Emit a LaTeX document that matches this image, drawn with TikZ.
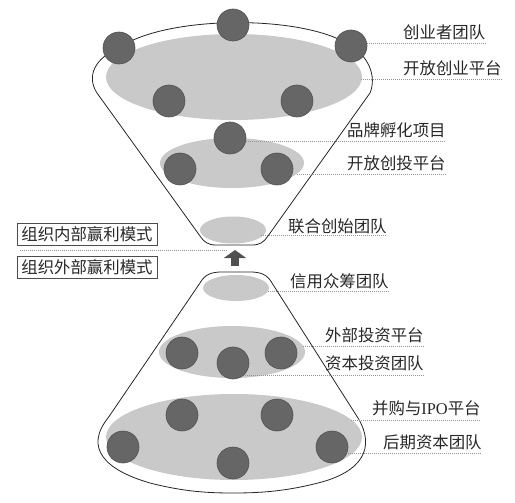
\documentclass[tikz,border=0pt]{standalone}
\usepackage{fontspec}
\setmainfont{Liberation Serif}
\newfontfamily\cjk{Noto Sans CJK SC}
\usetikzlibrary{shapes.geometric,arrows.meta}
\definecolor{platec}{RGB}{201,201,201}
\definecolor{ballc}{RGB}{102,102,102}
\definecolor{balledge}{RGB}{82,82,82}
\definecolor{leadc}{RGB}{150,150,150}
\definecolor{txtc}{RGB}{40,40,40}
\definecolor{arrowc}{RGB}{80,80,80}
\begin{document}
\begin{tikzpicture}[x=1pt,y=-1pt,
  plate/.style={ellipse,fill=platec,draw=none,inner sep=0pt},
  ball/.style={circle,fill=ballc,draw=balledge,line width=0.6pt,inner sep=0pt,minimum size=32pt},
  lab/.style={anchor=west,inner sep=0pt,text=txtc,font=\cjk\fontsize{16.4}{18}\selectfont},
  leader/.style={draw=leadc,line width=0.7pt,dash pattern=on 1pt off 1pt},
  outline/.style={draw=black!85,line width=0.8pt},
  modebox/.style={draw=black!70,line width=0.7pt,inner xsep=4pt,inner ysep=0pt,
    minimum width=140pt,minimum height=22pt,text=txtc,font=\cjk\fontsize{16.4}{18}\selectfont}]
\useasboundingbox (0,0) rectangle (515,503);
\fill[white] (0,0) rectangle (515,503);

% ---------- top funnel ----------
\draw[outline] (119,48) .. controls (165,15) and (305,14) .. (351,46)
  .. controls (368,56) and (377,76) .. (370,93) -- (268,236)
  .. controls (264,242) and (260,245) .. (252,245) -- (216,245)
  .. controls (208,245) and (204,242) .. (200,236) -- (97,93)
  .. controls (86,76) and (95,58) .. (119,48) -- cycle;

\node[plate,minimum width=256pt,minimum height=86pt] (p1) at (234,77) {};
\node[plate,minimum width=144pt,minimum height=50pt] (p2) at (232,163) {};
\node[plate,minimum width=66pt,minimum height=27pt] (p3) at (233,230) {};

% ---------- bottom cone ----------
\draw[outline] (200,283) .. controls (205,274) and (212,272) .. (222,272) -- (250,272)
  .. controls (260,272) and (267,274) .. (272,283) -- (358,418)
  .. controls (376,448) and (362,472) .. (318,483)
  .. controls (283,492) and (256,493) .. (233,493)
  .. controls (210,493) and (185,492) .. (150,483)
  .. controls (105,470) and (84,448) .. (108,418) -- cycle;

\node[plate,minimum width=66pt,minimum height=26pt] (q1) at (236,288) {};
\node[plate,minimum width=146pt,minimum height=52pt] (q2) at (232,352) {};
\node[plate,minimum width=256pt,minimum height=86pt] (q3) at (234,437) {};

% ---------- labels ----------
\node[lab] (t1) at (403,32) {创业者团队};
\node[lab] (t2) at (403,68) {开放创业平台};
\node[lab] (t3) at (347,130) {品牌孵化项目};
\node[lab] (t4) at (347,163) {开放创投平台};
\node[lab] (t5) at (288,226) {联合创始团队};
\node[lab] (t6) at (290,281) {信用众筹团队};
\node[lab] (t7) at (325,335) {外部投资平台};
\node[lab] (t8) at (325,363) {资本投资团队};
\node[lab] (t9) at (372,408) {并购与{\rmfamily IPO}平台};
\node[lab] (t10) at (383,442) {后期资本团队};

\node[modebox] (b1) at (87,234) {组织内部赢利模式};
\node[modebox] (b2) at (87,267.5) {组织外部赢利模式};

% ---------- leaders ----------
\coordinate (d1) at (351,43);
\coordinate (d2) at (361,79);
\coordinate (d3) at (230,141);
\coordinate (d4) at (297,174);
\coordinate (d5) at (261,235);
\coordinate (d6) at (268,291);
\coordinate (d7) at (303,346);
\coordinate (d8) at (233,375);
\coordinate (d9) at (351,420);
\coordinate (d10) at (332,453);
\draw[leader] (d1) -- (d1 -| t1.east);
\draw[leader] (d2) -- (d2 -| t2.east);
\draw[leader] (d3) -- (d3 -| t3.east);
\draw[leader] (d4) -- (d4 -| t4.east);
\draw[leader] (d5) -- (d5 -| t5.east);
\draw[leader] (d6) -- (d6 -| t6.east);
\draw[leader] (d7) -- (d7 -| t7.east);
\draw[leader] (d8) -- (d8 -| t8.east);
\draw[leader] (d9) -- (d9 -| t9.east);
\draw[leader] (d10) -- (d10 -| t10.east);

\coordinate (m1) at (20,250);
\coordinate (m2) at (228,250);
\draw[leader] (m1) -- (m2);

% ---------- arrow ----------
\coordinate (arrS) at (235,266);
\coordinate (arrE) at (235,250);
\draw[arrowc,line width=8pt,-{Triangle[width=22pt,length=8pt]}] (arrS) -- (arrE);

% ---------- balls: top funnel ----------
\node[ball] (a1) at (119,48) {};
\node[ball] (a2) at (233,25) {};
\node[ball] (a3) at (351,46) {};
\node[ball] (a4) at (169,101) {};
\node[ball] (a5) at (297,101) {};
\node[ball] (a6) at (230,138) {};
\node[ball] (a7) at (180,169) {};
\node[ball] (a8) at (277,169) {};

% ---------- balls: bottom cone ----------
\node[ball] (c1) at (182,353) {};
\node[ball] (c2) at (233,363) {};
\node[ball] (c3) at (281,353) {};
\node[ball] (c4) at (182,415) {};
\node[ball] (c5) at (277,415) {};
\node[ball] (c6) at (123,447) {};
\node[ball] (c7) at (332,447) {};
\node[ball] (c8) at (233,463) {};
\end{tikzpicture}
\end{document}
